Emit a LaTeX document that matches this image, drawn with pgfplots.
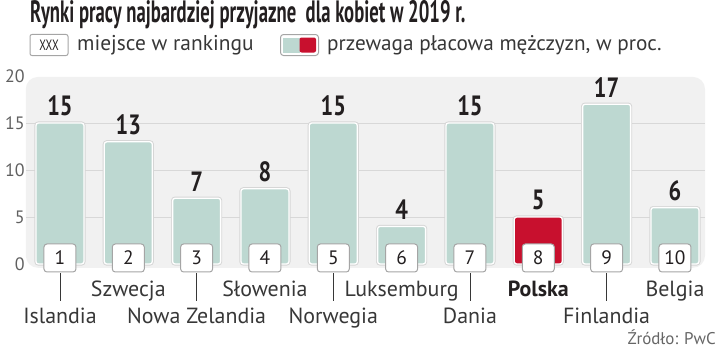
\documentclass[border=0pt]{standalone}
\usepackage{fontspec}
\setmainfont{PT Sans}
\usepackage{graphicx}
\usepackage{pgfplots}
\pgfplotsset{compat=1.18}
\definecolor{bargreen}{RGB}{189,216,209}
\definecolor{barred}{RGB}{200,16,46}
\definecolor{panel}{RGB}{241,241,241}
\definecolor{gridc}{RGB}{216,216,216}
\definecolor{txt}{RGB}{35,31,32}
\definecolor{lbl}{RGB}{55,55,55}
\definecolor{boxc}{RGB}{165,165,165}
\newcommand{\cond}[2]{\scalebox{#1}[1]{#2}}
\tikzset{rank/.style={draw=boxc, fill=white, rounded corners=3bp, line width=1bp, minimum width=32bp, minimum height=28bp, inner sep=0, font=\fontsize{19.5}{19.5}\selectfont, text=txt},
cat/.style={anchor=base, inner sep=0, font=\fontsize{22}{22}\selectfont, text=lbl}}
\begin{document}
\begin{tikzpicture}[x=1bp,y=1bp]
\useasboundingbox (0,0) rectangle (720,351);
\node[anchor=base west, inner sep=0, font=\fontsize{31}{31}\selectfont\bfseries, text=txt] at (30,328.5) {\cond{0.605}{Rynki pracy najbardziej przyjazne\ \ dla kobiet w 2019 r.}};
% legend
\node[draw=boxc, fill=white, rounded corners=2bp, minimum width=38bp, minimum height=21bp, inner sep=0, line width=1bp, font=\fontsize{15}{15}\selectfont, text=txt] at (49,306) {\cond{0.72}{XXX}};
\node[anchor=west, inner sep=0, font=\fontsize{21.5}{21.5}\selectfont, text=lbl] at (77,306) {miejsce w rankingu};
\fill[bargreen] (283,298.5) rectangle (299.5,313.5);
\fill[barred, rounded corners=2bp] (299.5,298.5) rectangle (316,313.5);
\draw[boxc, rounded corners=3bp, line width=1bp] (280.5,295.5) rectangle (318.5,316.5);
\node[anchor=west, inner sep=0, font=\fontsize{21.3}{21.3}\selectfont, text=lbl] at (327,306) {przewaga płacowa mężczyzn, w proc.};
\node[anchor=base east, inner sep=0, font=\fontsize{17}{17}\selectfont, text=gray!80!black] at (716,7) {Źródło: PwC};
\begin{axis}[at={(25.8bp,87bp)}, anchor=south west, scale only axis,
  width=683.3bp, height=188bp, xmin=-0.5, xmax=9.5, ymin=0, ymax=20,
  axis line style={draw=none}, major tick style={draw=none}, xtick=\empty,
  ytick={0,5,10,15,20}, clip=false,
  /pgf/number format/assume math mode=true,
  yticklabel style={anchor=east, inner sep=0, xshift=-1bp, font=\fontsize{18}{18}\selectfont, text=gray!75!black},
  every node near coord/.style={anchor=south, inner sep=0, yshift=6bp, font=\fontsize{28}{28}\selectfont\bfseries, text=txt},
  nodes near coords={\cond{0.8}{\pgfmathprintnumber{\pgfplotspointmeta}}}]
\fill[panel, rounded corners=12bp] (axis cs:-0.5,-0.4) rectangle (axis cs:9.44,19.9);
\draw[gridc, line width=1bp] (axis cs:-0.5,5) -- (axis cs:9.44,5);
\draw[gridc, line width=1bp] (axis cs:-0.5,10) -- (axis cs:9.44,10);
\draw[gridc, line width=1bp] (axis cs:-0.5,15) -- (axis cs:9.44,15);
\addplot[ybar, bar width=48bp, bar shift=0pt, fill=bargreen, draw=white, line width=1.3bp, rounded corners=2.5bp, preaction={draw=black!16, line width=3.2bp}]
  coordinates {(0,15) (1,13) (2,7) (3,8) (4,15) (5,4) (6,15) (8,17) (9,6)};
\addplot[ybar, bar width=48bp, bar shift=0pt, fill=barred, draw=white, line width=1.3bp, rounded corners=2.5bp, preaction={draw=black!16, line width=3.2bp}]
  coordinates {(7,5)};
\node[rank] at (axis cs:0,0.64) {1};
\node[rank] at (axis cs:1,0.64) {2};
\node[rank] at (axis cs:2,0.64) {3};
\node[rank] at (axis cs:3,0.64) {4};
\node[rank] at (axis cs:4,0.64) {5};
\node[rank] at (axis cs:5,0.64) {6};
\node[rank] at (axis cs:6,0.64) {7};
\node[rank] at (axis cs:7,0.64) {8};
\node[rank] at (axis cs:8,0.64) {9};
\node[rank] at (axis cs:9,0.64) {10};
\draw[lbl, line width=0.8bp] (axis cs:0,-0.96) -- (axis cs:0,-3.94);
\draw[lbl, line width=0.8bp] (axis cs:2,-0.96) -- (axis cs:2,-3.94);
\draw[lbl, line width=0.8bp] (axis cs:4,-0.96) -- (axis cs:4,-3.94);
\draw[lbl, line width=0.8bp] (axis cs:6,-0.96) -- (axis cs:6,-3.94);
\draw[lbl, line width=0.8bp] (axis cs:8,-0.96) -- (axis cs:8,-3.94);
\node[cat] at (axis cs:0,-6.28) {Islandia};
\node[cat] at (axis cs:1,-3.51) {Szwecja};
\node[cat] at (axis cs:2,-6.28) {Nowa Zelandia};
\node[cat] at (axis cs:3,-3.51) {Słowenia};
\node[cat] at (axis cs:4,-6.28) {Norwegia};
\node[cat] at (axis cs:5,-3.51) {Luksemburg};
\node[cat] at (axis cs:6,-6.28) {Dania};
\node[cat, font=\fontsize{22}{22}\selectfont\bfseries, text=txt] at (axis cs:7,-3.51) {Polska};
\node[cat] at (axis cs:8,-6.28) {Finlandia};
\node[cat] at (axis cs:9,-3.51) {Belgia};
\end{axis}
\end{tikzpicture}
\end{document}
